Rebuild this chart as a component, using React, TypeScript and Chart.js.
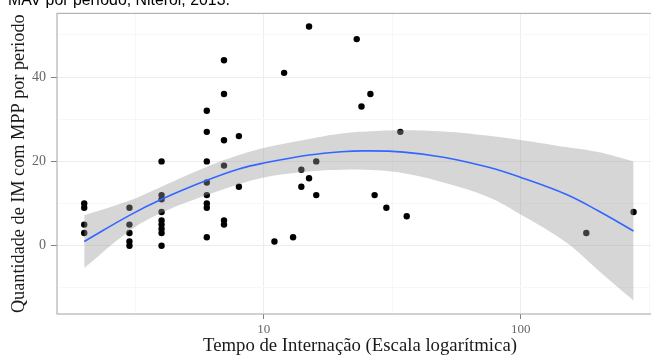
import React, { useEffect, useRef } from 'react';
import { Chart, registerables } from 'chart.js';

Chart.register(...registerables);

// Scatter data: hospitalization time (days) vs count
const pointX = [
  2, 2, 2, 2,
  3, 3, 3, 3, 3,
  4, 4, 4, 4, 4, 4, 4, 4, 4,
  6, 6, 6, 6, 6, 6, 6, 6,
  7, 7, 7, 7, 7, 7,
  8, 8,
  11, 12, 13, 14, 14, 15, 15, 16, 16,
  23, 24, 26, 27, 30, 34, 36,
  180, 275,
];
const pointY = [
  10, 9, 5, 3,
  9, 5, 3, 1, 0,
  20, 12, 11, 8, 6, 5, 4, 3, 0,
  32, 27, 20, 15, 12, 10, 9, 2,
  44, 36, 25, 19, 6, 5,
  26, 14,
  1, 41, 2, 18, 14, 52, 16, 20, 12,
  49, 33, 36, 12, 9, 27, 7,
  3, 8,
];

// Smoothed curve and its confidence band
const curveX = [2, 3, 4, 6, 8, 10, 15, 20, 25, 35, 50, 75, 100, 150, 200, 275];
const curveFit = [1.0, 7.2, 11.0, 15.5, 18.2, 19.6, 21.5, 22.3, 22.5, 22.2, 21.0, 18.6, 16.2, 12.2, 8.3, 3.5];
const curveUpper = [7.2, 10.7, 14.0, 18.7, 21.5, 23.2, 25.3, 26.6, 27.1, 27.4, 27.1, 26.1, 25.1, 23.4, 22.2, 20.0];
const curveLower = [-5.3, 3.5, 7.8, 12.0, 14.6, 16.2, 17.6, 18.0, 18.0, 17.2, 15.0, 11.5, 7.4, 0.8, -5.8, -13.0];

// Axis ticks
const xMajorTicks = [10, 100];
const xMinorTicks = [3.1623, 31.623, 316.23];
const yMajorTicks = [0, 20, 40];
const yMinorTicks = [-10, 10, 30, 50];

const titleText = 'MAV por período, Niterói, 2013.';
const xTitleText = 'Tempo de Internação (Escala logarítmica)';
const yTitleText = 'Quantidade de IM com MPP por periodo';

const X_MIN = 1.567;
const X_MAX = 351.6;
const Y_MIN = -16.2;
const Y_MAX = 55.1;

function fitFont(ctx: CanvasRenderingContext2D, text: string, family: string, width: number) {
  ctx.font = `100px ${family}`;
  const w = ctx.measureText(text).width;
  return (100 * width) / w;
}

const decorPlugin = {
  id: 'decor',
  afterDraw(chart: any) {
    const { ctx, chartArea } = chart;
    ctx.save();
    // panel border
    ctx.strokeStyle = '#b3b3b3';
    ctx.lineWidth = 1.2;
    ctx.strokeRect(chartArea.left, chartArea.top, chartArea.right - chartArea.left, chartArea.bottom - chartArea.top);

    // cut-off title at top
    const sans = '"Liberation Sans", Arial, sans-serif';
    const ts = fitFont(ctx, titleText, sans, 222);
    ctx.font = `${ts}px ${sans}`;
    ctx.fillStyle = '#000';
    ctx.textAlign = 'left';
    ctx.textBaseline = 'alphabetic';
    ctx.fillText(titleText, 8, 5);

    const serif = '"Liberation Serif", "Times New Roman", serif';
    // x title
    const xs = fitFont(ctx, xTitleText, serif, 314);
    ctx.font = `${xs}px ${serif}`;
    ctx.fillStyle = '#1a1a1a';
    ctx.textAlign = 'center';
    ctx.textBaseline = 'middle';
    ctx.fillText(xTitleText, 360, 346);

    // y title
    const ys = fitFont(ctx, yTitleText, serif, 299);
    ctx.font = `${ys}px ${serif}`;
    ctx.translate(19, (chartArea.top + chartArea.bottom) / 2);
    ctx.rotate(-Math.PI / 2);
    ctx.fillText(yTitleText, 0, 0);
    ctx.restore();
  },
};

export default function App() {
  const canvasRef = useRef<HTMLCanvasElement | null>(null);

  useEffect(() => {
    document.body.style.margin = '0';
    document.body.style.overflow = 'hidden';
    const canvas = canvasRef.current;
    if (!canvas) return;

    const serif = '"Liberation Serif", "Times New Roman", serif';
    const chart = new Chart(canvas, {
      type: 'scatter',
      data: {
        datasets: [
          {
            type: 'line',
            data: curveX.map((x, i) => ({ x, y: curveFit[i] })),
            borderColor: '#3366FF',
            borderWidth: 1.6,
            pointRadius: 0,
            tension: 0.4,
            fill: false,
            order: 0,
          } as any,
          {
            type: 'line',
            data: curveX.map((x, i) => ({ x, y: curveUpper[i] })),
            borderWidth: 0,
            borderColor: 'rgba(0,0,0,0)',
            backgroundColor: 'rgba(153,153,153,0.4)',
            pointRadius: 0,
            tension: 0.4,
            fill: '+1',
            order: 1,
          } as any,
          {
            type: 'line',
            data: curveX.map((x, i) => ({ x, y: curveLower[i] })),
            borderWidth: 0,
            borderColor: 'rgba(0,0,0,0)',
            pointRadius: 0,
            tension: 0.4,
            fill: false,
            order: 1,
          } as any,
          {
            type: 'scatter',
            data: pointX.map((x, i) => ({ x, y: pointY[i] })),
            backgroundColor: '#000000',
            borderWidth: 0,
            pointRadius: 3.2,
            order: 3,
          } as any,
        ],
      },
      options: {
        animation: false,
        responsive: false,
        devicePixelRatio: 1,
        events: [],
        layout: { padding: { left: 0, top: 11, right: 3, bottom: 0 } },
        plugins: {
          legend: { display: false },
          tooltip: { enabled: false },
          title: { display: false },
        },
        scales: {
          x: {
            type: 'logarithmic',
            min: X_MIN,
            max: X_MAX,
            afterBuildTicks: (scale: any) => {
              scale.ticks = [...xMinorTicks.slice(0, 1), xMajorTicks[0], xMinorTicks[1], xMajorTicks[1], xMinorTicks[2]].map((v) => ({ value: v }));
            },
            afterFit: (scale: any) => {
              scale.height = 42;
            },
            grid: {
              color: (c: any) => (c.tick && xMajorTicks.includes(c.tick.value) ? '#ededed' : '#f7f7f7'),
              tickColor: (c: any) => (c.tick && xMajorTicks.includes(c.tick.value) ? '#808080' : 'rgba(0,0,0,0)'),
              tickLength: 5,
              lineWidth: 1,
            },
            border: { display: false },
            ticks: {
              autoSkip: false,
              maxRotation: 0,
              padding: 3,
              color: '#666666',
              font: { family: serif, size: 13 },
              callback: (v: any) => (xMajorTicks.includes(Number(v)) ? String(v) : ''),
            },
          },
          y: {
            type: 'linear',
            min: Y_MIN,
            max: Y_MAX,
            afterBuildTicks: (scale: any) => {
              scale.ticks = [yMinorTicks[0], yMajorTicks[0], yMinorTicks[1], yMajorTicks[1], yMinorTicks[2], yMajorTicks[2], yMinorTicks[3]].map((v) => ({ value: v }));
            },
            afterFit: (scale: any) => {
              scale.width = 57;
            },
            grid: {
              color: (c: any) => (c.tick && yMajorTicks.includes(c.tick.value) ? '#ededed' : '#f7f7f7'),
              tickColor: (c: any) => (c.tick && yMajorTicks.includes(c.tick.value) ? '#808080' : 'rgba(0,0,0,0)'),
              tickLength: 6,
              lineWidth: 1,
            },
            border: { display: false },
            ticks: {
              autoSkip: false,
              padding: 5,
              color: '#666666',
              font: { family: serif, size: 14 },
              callback: (v: any) => (yMajorTicks.includes(Number(v)) ? String(v) : ''),
            },
          },
        },
      } as any,
      plugins: [decorPlugin],
    });

    return () => {
      chart.destroy();
    };
  }, []);

  return (
    <div style={{ width: 651, height: 356, overflow: 'hidden', position: 'relative', background: '#fff' }}>
      <canvas ref={canvasRef} width={665} height={356} style={{ width: 665, height: 356, display: 'block' }} />
    </div>
  );
}
